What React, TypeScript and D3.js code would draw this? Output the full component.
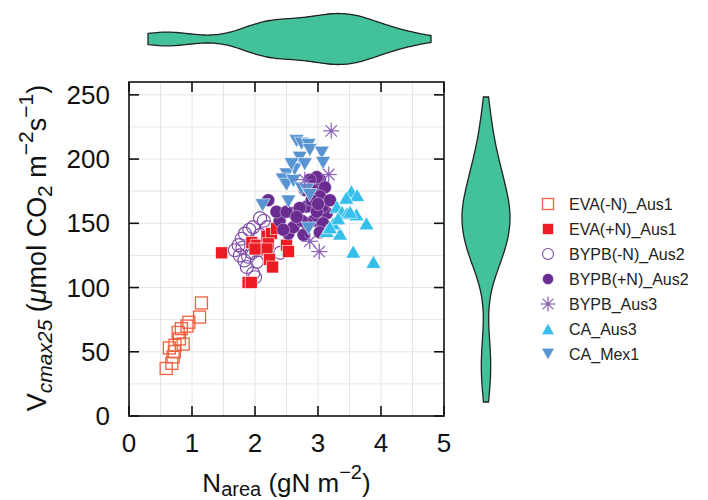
import React from 'react';
import * as d3 from 'd3';

// N_area (gN m-2), Vcmax25 pairs
const evaNeg: [number, number][] = [
  [0.59, 37], [0.68, 41], [0.7, 46], [0.64, 53], [0.73, 55], [0.86, 56], [0.8, 60],
  [0.78, 65], [0.83, 68], [0.92, 70], [0.95, 73], [1.12, 77], [1.15, 88], [0.72, 50],
];
const evaPos: [number, number][] = [
  [1.47, 127], [1.95, 135], [2.03, 133], [2.19, 140], [2.26, 142], [2.34, 146], [2.21, 134],
  [2.19, 130], [2.23, 122], [2.28, 116], [2.5, 133], [2.53, 128], [1.89, 104], [1.94, 104], [2.0, 130],
];
const bypbNeg: [number, number][] = [
  [1.74, 133], [1.68, 129], [1.76, 125], [1.83, 121], [1.87, 116], [1.97, 111], [2.0, 108],
  [1.79, 138], [1.84, 142], [1.91, 145], [1.97, 147], [2.08, 154], [2.14, 152], [2.19, 147],
  [2.08, 141], [1.95, 127], [2.03, 120], [2.05, 129], [1.89, 124], [2.4, 127], [1.8, 131],
];
const bypbPos: [number, number][] = [
  [2.21, 168], [2.53, 142], [2.77, 141], [2.39, 152], [2.34, 159], [2.61, 158], [2.82, 163],
  [2.93, 176], [3.03, 184], [3.11, 178], [3.03, 171], [3.14, 158], [2.93, 152], [3.08, 150],
  [3.03, 143], [2.82, 150], [2.71, 162], [2.5, 159], [2.98, 186], [2.87, 184], [3.08, 163],
  [2.98, 159], [2.61, 147], [2.74, 152], [3.19, 168], [2.79, 176], [2.66, 155], [2.9, 168],
  [2.45, 145], [3.0, 165],
];
const bypbAus3: [number, number][] = [[3.21, 222], [3.17, 188], [2.79, 184], [2.87, 136], [3.02, 128]];
const caAus3: [number, number][] = [
  [3.53, 175], [3.62, 172], [3.3, 163], [3.38, 159], [3.46, 158], [3.61, 157], [3.77, 150],
  [3.14, 144], [3.35, 142], [3.24, 150], [3.56, 128], [3.88, 120], [3.32, 154], [3.19, 147],
  [3.51, 159], [3.45, 170],
];
const caMex1: [number, number][] = [
  [2.66, 214], [2.74, 212], [2.85, 211], [2.87, 207], [3.06, 205], [3.08, 197], [2.63, 192],
  [2.5, 188], [2.44, 184], [2.5, 180], [2.61, 183], [2.74, 177], [2.82, 176], [2.53, 167],
  [2.12, 164], [2.87, 172], [2.85, 146], [2.71, 201], [2.79, 196], [2.58, 196],
];

const xTicks = [0, 1, 2, 3, 4, 5];
const yTicks = [0, 50, 100, 150, 200, 250];

type Kind = 'sqOpen' | 'sqFill' | 'cOpen' | 'cFill' | 'star' | 'triUp' | 'triDown';

const series: { name: string; data: [number, number][]; kind: Kind; color: string }[] = [
  { name: 'EVA(-N)_Aus1', data: evaNeg, kind: 'sqOpen', color: '#f2603f' },
  { name: 'EVA(+N)_Aus1', data: evaPos, kind: 'sqFill', color: '#ec1c24' },
  { name: 'BYPB(-N)_Aus2', data: bypbNeg, kind: 'cOpen', color: '#7b4aa3' },
  { name: 'BYPB(+N)_Aus2', data: bypbPos, kind: 'cFill', color: '#6a2c91' },
  { name: 'BYPB_Aus3', data: bypbAus3, kind: 'star', color: '#8d63b8' },
  { name: 'CA_Aus3', data: caAus3, kind: 'triUp', color: '#35bfea' },
  { name: 'CA_Mex1', data: caMex1, kind: 'triDown', color: '#5893d2' },
];
// draw order in the plot (open circles underneath)
const drawOrder = [2, 0, 1, 3, 5, 6, 4];

const FONT = '"Liberation Sans", Arial, Helvetica, sans-serif';
const violinFill = '#43c19a';

function Marker({ kind, color, x, y, s }: { kind: Kind; color: string; x: number; y: number; s: number }) {
  const h = s / 2;
  switch (kind) {
    case 'sqOpen':
      return <rect x={x - h} y={y - h} width={s} height={s} fill="none" stroke={color} strokeWidth={1.3} />;
    case 'sqFill':
      return <rect x={x - h} y={y - h} width={s} height={s} fill={color} stroke="#fff" strokeWidth={0.6} />;
    case 'cOpen':
      return <circle cx={x} cy={y} r={h} fill="none" stroke={color} strokeWidth={1.1} />;
    case 'cFill':
      return <circle cx={x} cy={y} r={h} fill={color} stroke="#fff" strokeWidth={0.4} />;
    case 'star': {
      const d = h * 0.72;
      return (
        <g stroke={color} strokeWidth={1.2}>
          <line x1={x - h} y1={y} x2={x + h} y2={y} />
          <line x1={x} y1={y - h} x2={x} y2={y + h} />
          <line x1={x - d} y1={y - d} x2={x + d} y2={y + d} />
          <line x1={x - d} y1={y + d} x2={x + d} y2={y - d} />
          <circle cx={x} cy={y} r={1.3} fill={color} />
        </g>
      );
    }
    case 'triUp': {
      const th = s * 0.87;
      return <path d={`M${x},${y - th / 2}L${x + h},${y + th / 2}L${x - h},${y + th / 2}Z`} fill={color} stroke="#fff" strokeWidth={0.6} />;
    }
    case 'triDown': {
      const th = s * 0.87;
      return <path d={`M${x},${y + th / 2}L${x + h},${y - th / 2}L${x - h},${y - th / 2}Z`} fill={color} stroke="#fff" strokeWidth={0.6} />;
    }
  }
}

function kde(values: number[], bw: number, grid: number[]) {
  return grid.map(g => d3.mean(values, v => Math.exp(-0.5 * ((g - v) / bw) ** 2)) as number);
}

const App = () => {
  const W = 708, H = 500;
  const x = d3.scaleLinear().domain([0, 5]).range([129, 444]);
  const y = d3.scaleLinear().domain([0, 260]).range([416, 82]);

  const allX = series.flatMap(s => s.data.map(d => d[0]));
  const allY = series.flatMap(s => s.data.map(d => d[1]));

  // top violin (N_area)
  const [xmin, xmax] = d3.extent(allX) as [number, number];
  const gx = d3.range(101).map(i => xmin + (xmax - xmin) * i / 100);
  const dx = kde(allX, 0.27, gx);
  const vxs = d3.scaleLinear().domain([xmin, xmax]).range([148, 431]);
  const wx = d3.scaleLinear().domain([0, d3.max(dx) as number]).range([0, 25.5]);
  const cyTop = 39;
  const topArea = d3.area<number>()
    .x((_, i) => vxs(gx[i]))
    .y0(d => cyTop - wx(d))
    .y1(d => cyTop + wx(d))
    .curve(d3.curveBasis)(dx);

  // right violin (Vcmax25)
  const [ymin, ymax] = d3.extent(allY) as [number, number];
  const gy = d3.range(101).map(i => ymin + (ymax - ymin) * i / 100);
  const dy = kde(allY, 13, gy);
  const vys = d3.scaleLinear().domain([ymin, ymax]).range([402, 97]);
  const wy = d3.scaleLinear().domain([0, d3.max(dy) as number]).range([0, 24]);
  const cxRight = 486;
  const rightArea = d3.area<number>()
    .y((_, i) => vys(gy[i]))
    .x0(d => cxRight - wy(d))
    .x1(d => cxRight + wy(d))
    .curve(d3.curveBasis)(dy);

  const xGrid = d3.range(0.5, 5, 0.5);
  const yGrid = d3.range(25, 260, 25);
  const tk = 10;

  return (
    <svg width={W} height={H} style={{ position: 'absolute', left: 0, top: 0, background: '#fff' }} fontFamily={FONT}>
      {/* grid */}
      <g stroke="#e6e6e6" strokeWidth={1}>
        {xGrid.map(v => <line key={'gx' + v} x1={x(v)} x2={x(v)} y1={y(260)} y2={y(0)} />)}
        {yGrid.map(v => <line key={'gy' + v} x1={x(0)} x2={x(5)} y1={y(v)} y2={y(v)} />)}
      </g>

      {/* points */}
      {drawOrder.map(si => {
        const s = series[si];
        const size = s.kind === 'triUp' || s.kind === 'triDown' ? 15 : s.kind === 'star' ? 16 : s.kind === 'cOpen' || s.kind === 'cFill' ? 13 : 12;
        return (
          <g key={s.name}>
            {s.data.map((d, i) => <Marker key={i} kind={s.kind} color={s.color} x={x(d[0])} y={y(d[1])} s={size} />)}
          </g>
        );
      })}

      {/* frame and ticks */}
      <rect x={x(0)} y={y(260)} width={x(5) - x(0)} height={y(0) - y(260)} fill="none" stroke="#111" strokeWidth={1.6} />
      <g stroke="#111" strokeWidth={1.6}>
        {xTicks.map(v => (
          <g key={'xt' + v}>
            <line x1={x(v)} x2={x(v)} y1={y(0)} y2={y(0) - tk} />
            <line x1={x(v)} x2={x(v)} y1={y(260)} y2={y(260) + tk} />
          </g>
        ))}
        {yTicks.map(v => (
          <g key={'yt' + v}>
            <line x1={x(0)} x2={x(0) + tk} y1={y(v)} y2={y(v)} />
            <line x1={x(5)} x2={x(5) - tk} y1={y(v)} y2={y(v)} />
          </g>
        ))}
      </g>

      {/* tick labels */}
      <g fontSize={26} fill="#111">
        {xTicks.map(v => <text key={'xl' + v} x={x(v)} y={452} textAnchor="middle">{v}</text>)}
        {yTicks.map(v => <text key={'yl' + v} x={110} y={y(v) + 9} textAnchor="end">{v}</text>)}
      </g>

      {/* axis titles */}
      <text x={x(2.5)} y={492} textAnchor="middle" fontSize={26} fill="#111">
        N<tspan fontSize={20} dy={4}>area</tspan>
        <tspan dy={-4}> (gN m</tspan>
        <tspan fontSize={20} dy={-13}>−2</tspan>
        <tspan dy={13}>)</tspan>
      </text>
      <text transform="translate(46,248) rotate(-90)" textAnchor="middle" fontSize={27} fill="#111">
        V<tspan fontSize={21} dy={6} fontStyle="italic">cmax25</tspan>
        <tspan dy={-6}> (</tspan>
        <tspan fontStyle="italic">μ</tspan>
        <tspan>mol CO</tspan>
        <tspan fontSize={21} dy={6}>2</tspan>
        <tspan dy={-6}> m</tspan>
        <tspan fontSize={21} dy={-13}>−2</tspan>
        <tspan dy={13}>s</tspan>
        <tspan fontSize={21} dy={-13}>−1</tspan>
        <tspan dy={13}>)</tspan>
      </text>

      {/* violins */}
      <path d={topArea ?? ''} fill={violinFill} stroke="#222" strokeWidth={1.3} />
      <path d={rightArea ?? ''} fill={violinFill} stroke="#222" strokeWidth={1.3} />

      {/* legend */}
      <g fontSize={16} fill="#222">
        {series.map((s, i) => {
          const ly = 204 + i * 25;
          const size = s.kind === 'triUp' || s.kind === 'triDown' ? 13 : s.kind === 'star' ? 15 : 11;
          return (
            <g key={'lg' + s.name}>
              <Marker kind={s.kind} color={s.color} x={548} y={ly} s={size} />
              <text x={569} y={ly + 6}>{s.name}</text>
            </g>
          );
        })}
      </g>
    </svg>
  );
};

export default App;
